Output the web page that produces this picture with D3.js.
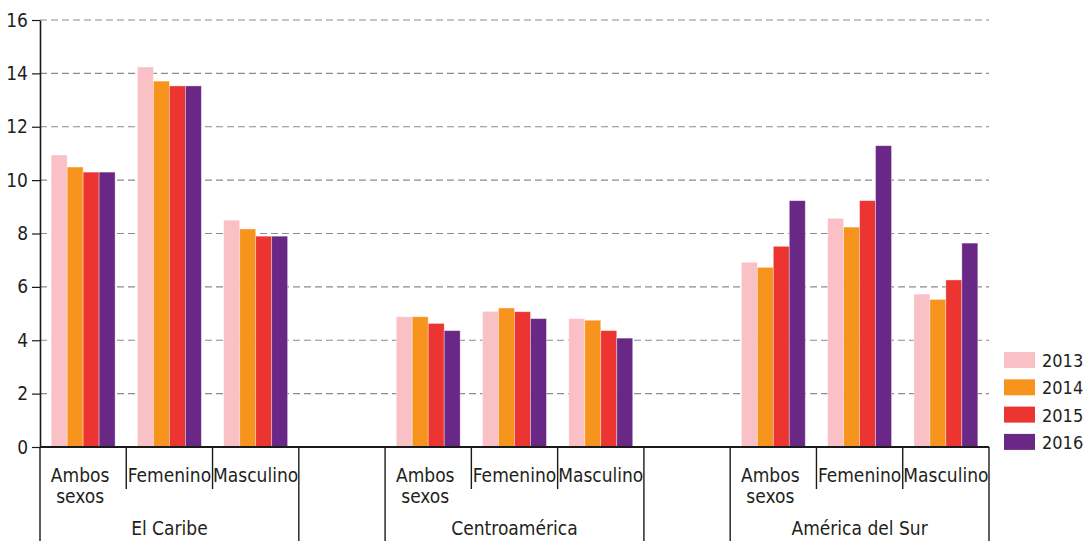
<!DOCTYPE html>
<html><head><meta charset="utf-8">
<script src="https://cdn.jsdelivr.net/npm/d3@7"></script>
<style>
body{margin:0;background:#fff;}
svg{display:block;}
text{font-family:"DejaVu Sans Condensed","DejaVu Sans",sans-serif;font-stretch:condensed;fill:#231f20;}
</style></head>
<body>
<svg id="c" width="1083" height="541"></svg>
<script>
const regions = ["El Caribe","Centroamérica","América del Sur"];
const sexes = ["Ambos sexos","Femenino","Masculino"];
const years = ["2013","2014","2015","2016"];
const colors = ["#F9C1C5","#F7941E","#EC3430","#6A2886"];
// values in order: region × sex
const v2013 = [10.94,14.24,8.50, 4.88,5.08,4.81, 6.92,8.57,5.73];
const v2014 = [10.49,13.71,8.17, 4.88,5.21,4.75, 6.73,8.24,5.53];
const v2015 = [10.30,13.53,7.90, 4.63,5.07,4.36, 7.52,9.23,6.26];
const v2016 = [10.30,13.53,7.90, 4.36,4.81,4.08, 9.23,11.29,7.64];
const series = [v2013,v2014,v2015,v2016];
const yTicks = [0,2,4,6,8,10,12,14,16];

const FONT = '"DejaVu Sans Condensed","DejaVu Sans",sans-serif';
const svg = d3.select("#c");
const L=40, R=989, T=20, B=447;

const slots = [];
regions.forEach((r,i)=>{
  sexes.forEach(s=>slots.push(r+"|"+s));
  if(i<regions.length-1) slots.push("gap"+i);
});
const x = d3.scaleBand().domain(slots).range([L,R]).padding(0);
const xi = d3.scaleBand().domain(years).range([0,x.bandwidth()]).paddingInner(0).paddingOuter(0.7);
const y = d3.scaleLinear().domain([0,16]).range([B,T]);

svg.append("g").selectAll("line").data(yTicks.filter(d=>d>0)).join("line")
  .attr("x1",L).attr("x2",R).attr("y1",d=>y(d)).attr("y2",d=>y(d))
  .attr("stroke","#8c8c8c").attr("stroke-width",1.2).attr("stroke-dasharray","7,4");

const rows = [];
regions.forEach((r,ri)=>sexes.forEach((s,si)=>{
  years.forEach((yr,yi)=>rows.push({slot:r+"|"+s, year:yr, yi, v:series[yi][ri*3+si]}));
}));
svg.append("g").selectAll("rect").data(rows).join("rect")
  .attr("x",d=>x(d.slot)+xi(d.year))
  .attr("width",xi.bandwidth())
  .attr("y",d=>y(d.v))
  .attr("height",d=>y(0)-y(d.v))
  .attr("fill",d=>colors[d.yi])
  .attr("stroke","rgba(255,255,255,0.45)").attr("stroke-width",0.8);

const ya = svg.append("g").attr("transform",`translate(${L},0)`)
  .call(d3.axisLeft(y).tickValues(yTicks).tickSize(8).tickPadding(4).tickSizeOuter(0));
ya.select(".domain").attr("stroke","#1a1a1a").attr("stroke-width",1.6);
ya.selectAll(".tick line").attr("stroke","#1a1a1a").attr("stroke-width",1.2);
ya.selectAll(".tick text").style("font-size","19px").attr("fill","#231f20")
  .style("font-family",FONT).style("font-stretch","condensed");

svg.append("line").attr("x1",L).attr("x2",R).attr("y1",B).attr("y2",B)
  .attr("stroke","#1a1a1a").attr("stroke-width",1.8);

const longX = [], shortX = [];
slots.forEach((s,i)=>{
  const xs = x(s);
  const prev = i>0 ? slots[i-1] : null;
  if(i===0 || s.startsWith("gap") || (prev && prev.startsWith("gap"))) longX.push(xs);
  else shortX.push(xs);
});
longX.push(R);
svg.append("g").selectAll("line").data(longX).join("line")
  .attr("x1",d=>d).attr("x2",d=>d).attr("y1",B).attr("y2",541)
  .attr("stroke","#1a1a1a").attr("stroke-width",1.4);
svg.append("g").selectAll("line").data(shortX).join("line")
  .attr("x1",d=>d).attr("x2",d=>d).attr("y1",B).attr("y2",489)
  .attr("stroke","#1a1a1a").attr("stroke-width",1.4);

const sexLab = svg.append("g");
regions.forEach(r=>sexes.forEach(s=>{
  const cx = x(r+"|"+s)+x.bandwidth()/2 - (s==="Ambos sexos"?3:0);
  const t = sexLab.append("text").attr("text-anchor","middle").style("font-size","19px");
  s.split(" ").forEach((w,wi)=>{
    t.append("tspan").attr("x",cx).attr("y",482+wi*21).text(w);
  });
}));
regions.forEach(r=>{
  const x0 = x(r+"|"+sexes[0]), x1 = x(r+"|"+sexes[2])+x.bandwidth();
  svg.append("text").attr("x",(x0+x1)/2).attr("y",535).attr("text-anchor","middle")
    .style("font-size","19px").text(r);
});

const lg = svg.append("g");
years.forEach((yr,i)=>{
  lg.append("rect").attr("x",1004).attr("y",352+i*27.3).attr("width",31).attr("height",16).attr("fill",colors[i]);
  lg.append("text").attr("x",1042).attr("y",367+i*27.3).style("font-size","18px").text(yr);
});
</script>
</body></html>
